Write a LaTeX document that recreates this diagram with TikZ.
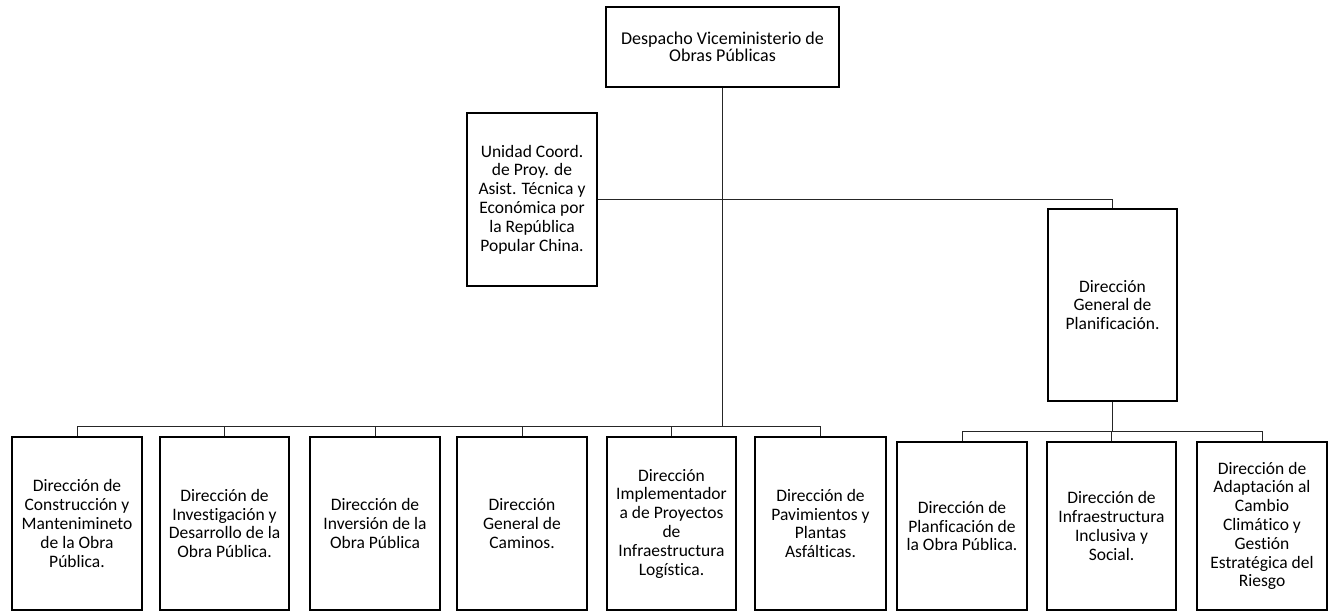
\documentclass[tikz,border=0pt]{standalone}
\usepackage{fontspec}
\setmainfont{Carlito}[Ligatures={NoCommon,TeX}]
\begin{document}
\begin{tikzpicture}[x=1pt,y=-1pt,
  box/.style={draw=black, line width=1.8pt, fill=white, align=center, inner sep=2pt,
    font=\fontsize{17.5}{18.8}\selectfont},
  link/.style={draw=black!85, line width=0.9pt}]
\useasboundingbox (0,0) rectangle (1330,613);
% upper boxes
\node[box, minimum width=233pt, minimum height=80pt, font=\fontsize{18}{16.8}\selectfont] (top) at (722.5,47) {Despacho Viceministerio de\\Obras Públicas};
\node[box, minimum width=130pt, minimum height=173pt] (uni) at (532,199.5) {Unidad Coord.\\de Proy. de\\Asist. Técnica y\\Económica por\\la República\\Popular China.};
\node[box, minimum width=129pt, minimum height=192pt] (dgp) at (1112.5,305) {Dirección\\General de\\Planificación.};
% bottom row, left group
\node[box, minimum width=130pt, minimum height=173pt] (b1) at (77,523.5) {Dirección de\\Construcción y\\Mantenimineto\\de la Obra\\Pública.};
\node[box, minimum width=129pt, minimum height=173pt] (b2) at (224.5,523.5) {Dirección de\\Investigación y\\Desarrollo de la\\Obra Pública.};
\node[box, minimum width=130pt, minimum height=173pt] (b3) at (375,523.5) {Dirección de\\Inversión de la\\Obra Pública};
\node[box, minimum width=130pt, minimum height=173pt] (b4) at (522,523.5) {Dirección\\General de\\Caminos.};
\node[box, minimum width=129pt, minimum height=173pt] (b5) at (671.5,523.5) {Dirección\\Implementador\\a de Proyectos\\de\\Infraestructura\\Logística.};
\node[box, minimum width=131pt, minimum height=173pt] (b6) at (820.5,523.5) {Dirección de\\Pavimientos y\\Plantas\\Asfálticas.};
% bottom row, right group
\node[box, minimum width=130pt, minimum height=168pt] (b7) at (962,526) {Dirección de\\Planficación de\\la Obra Pública.};
\node[box, minimum width=129pt, minimum height=168pt] (b8) at (1111.5,526) {Dirección de\\Infraestructura\\Inclusiva y\\Social.};
\node[box, minimum width=130pt, minimum height=168pt] (b9) at (1262,526) {Dirección de\\Adaptación al\\Cambio\\Climático y\\Gestión\\Estratégica del\\Riesgo};
% connectors
\coordinate (bus1) at (722.5,426);
\coordinate (bus2) at (1112.5,431);
\draw[link] (top.south) -- (bus1);
\foreach \n in {b1,b2,b3,b4,b5,b6} \draw[link] (bus1) -| (\n.north);
\draw[link] (uni.east) -| (dgp.north);
\draw[link] (dgp.south) -- (bus2);
\foreach \n in {b7,b8,b9} \draw[link] (bus2) -| (\n.north);
\end{tikzpicture}
\end{document}
